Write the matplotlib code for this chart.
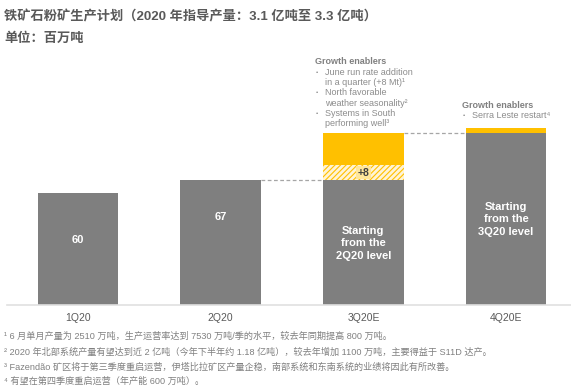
import matplotlib
matplotlib.use("Agg")
import matplotlib.pyplot as plt

plt.rcParams['font.family'] = ['Liberation Sans', 'Noto Sans CJK SC', 'DejaVu Sans']
plt.rcParams['hatch.linewidth'] = 0.8

quarters = ["1Q20", "2Q20", "3Q20E", "4Q20E"]
base = [60, 67, 67, 92]
run_rate = [0, 0, 8, 0]
growth = [0, 0, 17, 3]
bar_labels = ["60", "67", "Starting\nfrom the\n2Q20 level", "Starting\nfrom the\n3Q20 level"]
enablers_3q = [("June run rate addition", "in a quarter (+8 Mt)¹"),
               ("North favorable", "weather seasonality²"),
               ("Systems in South", "performing well³")]
enablers_4q = ["Serra Leste restart⁴"]

GRAY = "#7f7f7f"
YELLOW = "#ffc000"
TEXT = "#595959"
NOTE = "#808080"

fig = plt.figure(figsize=(5.71, 3.92), dpi=100)
ax = fig.add_axes([7 / 571, 87 / 392, 564 / 571, 265 / 392])
ax.set_xlim(-0.4975, 3.455)
ax.set_ylim(0, 142)

x = list(range(len(quarters)))
w = 0.566
ax.bar(x, base, width=w, color=GRAY, linewidth=0)
ax.bar(x, run_rate, width=w, bottom=base, facecolor="#fff4d6",
       edgecolor=YELLOW, hatch="//////", linewidth=0)
bottoms3 = [b + r for b, r in zip(base, run_rate)]
ax.bar(x, growth, width=w, bottom=bottoms3, color=YELLOW, linewidth=0)

# labels inside bars
label_y = [35, 47, 33, 46]
for i, (lab, ly) in enumerate(zip(bar_labels, label_y)):
    ax.text(i, ly, lab, ha="center", va="center", color="white",
            fontsize=8, fontweight="bold", linespacing=1.3)

# +8 label
ax.text(2, base[2] + run_rate[2] / 2, "+8", ha="center", va="center",
        fontsize=7.5, fontweight="bold", color="#404040",
        bbox=dict(boxstyle="square,pad=0.15", facecolor="#ffe699", edgecolor="none"))

# dashed connectors
for i in (1, 2):
    top = base[i] + run_rate[i] + growth[i]
    ax.plot([i + w / 2, i + 1 - w / 2], [top, top], color="#a6a6a6",
            linestyle=(0, (3, 2)), linewidth=0.9)

ax.set_xticks(x)
ax.set_xticklabels(quarters, fontsize=7.5, color=TEXT)
ax.tick_params(axis="x", length=0, pad=6)
ax.set_yticks([])
for s in ("top", "right", "left"):
    ax.spines[s].set_visible(False)
ax.spines["bottom"].set_color("#e0e0e0")
ax.spines["bottom"].set_linewidth(1.2)


def enabler_block(x0, y0, items):
    fig.text(x0 / 571, 1 - y0 / 392, "Growth enablers", fontsize=6.5, fontweight="bold",
             color="#808080", va="center")
    y = y0 + 10.3
    for item in items:
        lines = item if isinstance(item, tuple) else (item,)
        fig.text((x0 + 1) / 571, 1 - y / 392, "•", fontsize=4.5, color="#8c8c8c", va="center")
        for ln in lines:
            fig.text((x0 + 10) / 571, 1 - y / 392, ln, fontsize=6.5, color="#8c8c8c",
                     va="center")
            y += 10.3


enabler_block(315, 62, enablers_3q)
enabler_block(462, 105, enablers_4q)

# title
fig.text(4 / 571, 1 - 17 / 392, "铁矿石粉矿生产计划（2020 年指导产量：3.1 亿吨至 3.3 亿吨）",
         fontsize=9.5, fontweight="bold", color=TEXT, va="center")
fig.text(4 / 571, 1 - 39 / 392, "单位：百万吨", fontsize=9.5, fontweight="bold",
         color=TEXT, va="center")

notes = [
    "¹ 6 月单月产量为 2510 万吨，生产运营率达到 7530 万吨/季的水平，较去年同期提高 800 万吨。",
    "² 2020 年北部系统产量有望达到近 2 亿吨（今年下半年约 1.18 亿吨），较去年增加 1100 万吨，主要得益于 S11D 达产。",
    "³ Fazendão 矿区将于第三季度重启运营，伊塔比拉矿区产量企稳，南部系统和东南系统的业绩将因此有所改善。",
    "⁴ 有望在第四季度重启运营（年产能 600 万吨）。",
]
for n, yy in zip(notes, [336, 352, 367, 381]):
    fig.text(4 / 571, 1 - yy / 392, n, fontsize=6.6, color=NOTE, va="center")

fig.savefig("out.png", dpi=100)
